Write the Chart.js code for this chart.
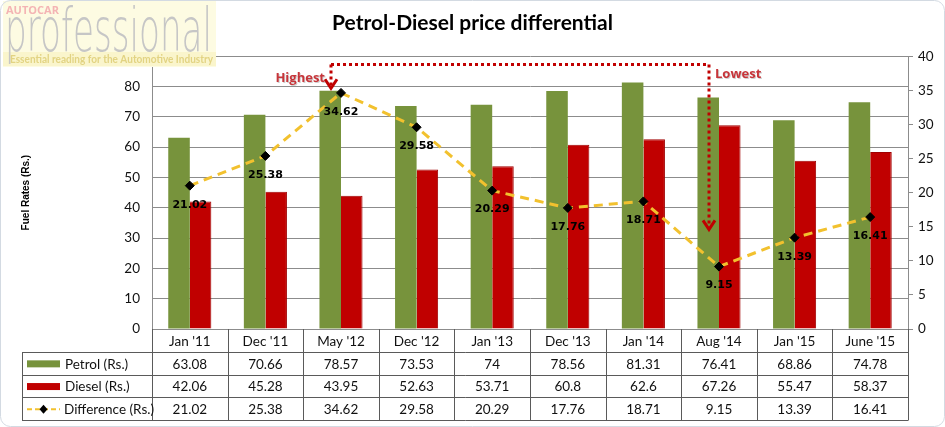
<!DOCTYPE html>
<html>
<head>
<meta charset="utf-8">
<script src="https://cdn.jsdelivr.net/npm/chart.js@4.4.1/dist/chart.umd.min.js"></script>
<style>
  html, body { margin: 0; padding: 0; background: #fff; }
  #wrap { width: 945px; height: 427px; }
</style>
</head>
<body>
<div id="wrap"><canvas id="chart" width="945" height="427"></canvas></div>
<script>
const periods = ["Jan '11", "Dec '11", "May '12", "Dec '12", "Jan '13", "Dec '13", "Jan '14", "Aug '14", "Jan '15", "June '15"];
const petrol = [63.08, 70.66, 78.57, 73.53, 74, 78.56, 81.31, 76.41, 68.86, 74.78];
const diesel = [42.06, 45.28, 43.95, 52.63, 53.71, 60.8, 62.6, 67.26, 55.47, 58.37];
const difference = [21.02, 25.38, 34.62, 29.58, 20.29, 17.76, 18.71, 9.15, 13.39, 16.41];
const rowNames = ["Petrol (Rs.)", "Diesel (Rs.)", "Difference (Rs.)"];

const green = "#77933c";
const red = "#c00000";
const gold = "#f2c12e";
const gridGrey = "#8c8c8c";
const tableGrey = "#5a5a5a";

// annotation ends, on the right axis
const arrowTop = 38.8;
const highestEnd = 35.3;
const lowestEnd = 14.6;

function drawArrow(ctx, x, y1, y2) {
  ctx.beginPath();
  ctx.moveTo(x, y1);
  ctx.lineTo(x, y2 - 3);
  ctx.stroke();
  ctx.setLineDash([]);
  ctx.beginPath();
  ctx.moveTo(x - 6, y2 - 9);
  ctx.lineTo(x, y2);
  ctx.lineTo(x + 6, y2 - 9);
  ctx.stroke();
  ctx.setLineDash([3, 3]);
}

const extras = {
  id: "extras",
  afterDatasetsDraw(chart) {
    const ctx = chart.ctx;
    const yr = chart.scales.y1;

    // value labels for the difference line
    const meta = chart.getDatasetMeta(0);
    ctx.save();
    ctx.font = "bold 11px 'DejaVu Sans'";
    ctx.fillStyle = "#000";
    ctx.textAlign = "center";
    ctx.textBaseline = "middle";
    meta.data.forEach((pt, i) => {
      ctx.fillText(difference[i].toFixed(2), pt.x, pt.y + 19);
    });
    ctx.restore();

    // highest / lowest markers
    const hi = difference.indexOf(Math.max(...difference));
    const lo = difference.indexOf(Math.min(...difference));
    const hx = meta.data[hi].x - 10;
    const lx = meta.data[lo].x - 10;
    const topY = yr.getPixelForValue(arrowTop);
    ctx.save();
    ctx.strokeStyle = red;
    ctx.lineWidth = 3;
    ctx.setLineDash([3, 3]);
    ctx.beginPath();
    ctx.moveTo(hx, topY);
    ctx.lineTo(lx, topY);
    ctx.stroke();
    drawArrow(ctx, hx, topY, yr.getPixelForValue(highestEnd));
    drawArrow(ctx, lx, topY, yr.getPixelForValue(lowestEnd));
    ctx.setLineDash([]);
    ctx.font = "bold 13px 'Open Sans'";
    ctx.textBaseline = "middle";
    ctx.fillStyle = "rgba(120,120,120,0.35)";
    ctx.textAlign = "right";
    ctx.fillText("Highest", hx - 5, 79);
    ctx.textAlign = "left";
    ctx.fillText("Lowest", lx + 7, 75);
    ctx.fillStyle = "#c7353a";
    ctx.textAlign = "right";
    ctx.fillText("Highest", hx - 6, 78);
    ctx.textAlign = "left";
    ctx.fillText("Lowest", lx + 6, 74);
    ctx.restore();
  },
  afterDraw(chart) {
    const ctx = chart.ctx;
    const area = chart.chartArea;
    const step = (area.right - area.left) / periods.length;
    const tableLeft = 22;
    const tableTop = area.bottom + 23;
    const rowH = 22.7;

    // data table grid
    ctx.save();
    ctx.strokeStyle = tableGrey;
    ctx.lineWidth = 1;
    ctx.beginPath();
    for (let i = 0; i <= periods.length; i++) {
      const x = Math.round(area.left + i * step) + 0.5;
      ctx.moveTo(x, area.bottom);
      ctx.lineTo(x, tableTop + 3 * rowH);
    }
    for (let r = 0; r <= 3; r++) {
      const y = Math.round(tableTop + r * rowH) + 0.5;
      ctx.moveTo(tableLeft, y);
      ctx.lineTo(area.right + 0.5, y);
    }
    ctx.moveTo(tableLeft + 0.5, tableTop);
    ctx.lineTo(tableLeft + 0.5, tableTop + 3 * rowH);
    ctx.stroke();

    // table values
    ctx.font = "13.5px Lato";
    ctx.fillStyle = "#111";
    ctx.textAlign = "center";
    ctx.textBaseline = "middle";
    [petrol, diesel, difference].forEach((row, r) => {
      const y = tableTop + r * rowH + rowH / 2 + 1;
      row.forEach((v, i) => {
        ctx.fillText(String(v), area.left + (i + 0.5) * step, y);
      });
    });

    // legend keys
    ctx.textAlign = "left";
    rowNames.forEach((name, r) => {
      const y = tableTop + r * rowH + rowH / 2;
      if (r < 2) {
        ctx.fillStyle = r === 0 ? green : red;
        ctx.fillRect(27, y - 3, 33, 7);
      } else {
        ctx.strokeStyle = gold;
        ctx.lineWidth = 2;
        ctx.setLineDash([5, 3]);
        ctx.beginPath();
        ctx.moveTo(27, y + 0.5);
        ctx.lineTo(60, y + 0.5);
        ctx.stroke();
        ctx.setLineDash([]);
        ctx.fillStyle = "#000";
        ctx.beginPath();
        ctx.moveTo(43.5, y - 4);
        ctx.lineTo(47.5, y + 0.5);
        ctx.lineTo(43.5, y + 5);
        ctx.lineTo(39.5, y + 0.5);
        ctx.closePath();
        ctx.fill();
      }
      ctx.fillStyle = "#111";
      ctx.fillText(name, r < 2 ? 65 : 64, y + 1);
    });

    // logo
    ctx.fillStyle = "#fdfbe2";
    ctx.fillRect(3, 1, 213, 66);
    ctx.fillStyle = "#faf5cc";
    ctx.fillRect(3, 52, 213, 14);
    ctx.fillStyle = "#f4b4b4";
    ctx.font = "bold 11px 'Open Sans'";
    ctx.textBaseline = "alphabetic";
    ctx.fillText("AUTOCAR", 6, 14);
    ctx.fillStyle = "#c6c6c6";
    ctx.font = "200 60px 'DejaVu Sans', Lato";
    let w = ctx.measureText("professional").width;
    ctx.save();
    ctx.translate(5, 51);
    ctx.scale(207 / w, 1);
    ctx.fillText("professional", 0, 0);
    ctx.restore();
    ctx.fillStyle = "#e2d382";
    ctx.font = "bold 11px Lato";
    w = ctx.measureText("Essential reading for the Automotive Industry").width;
    ctx.save();
    ctx.translate(10, 63);
    ctx.scale(203 / w, 1);
    ctx.fillText("Essential reading for the Automotive Industry", 0, 0);
    ctx.restore();

    // outer frame
    ctx.strokeStyle = "#d3dae2";
    ctx.lineWidth = 1;
    ctx.beginPath();
    ctx.roundRect(0.5, 0.5, 944, 426, 10);
    ctx.stroke();
    ctx.restore();
  }
};

new Chart(document.getElementById("chart"), {
  data: {
    labels: periods,
    datasets: [
      {
        type: "line",
        label: rowNames[2],
        data: difference,
        yAxisID: "y1",
        order: 0,
        borderColor: gold,
        borderWidth: 3,
        borderDash: [9, 6],
        pointStyle: "rectRot",
        pointRadius: 4.5,
        pointBackgroundColor: "#000",
        pointBorderColor: "#000",
        pointBorderWidth: 1,
        tension: 0
      },
      {
        type: "bar",
        label: rowNames[0],
        data: petrol,
        yAxisID: "y",
        order: 1,
        backgroundColor: green,
        categoryPercentage: 0.57,
        barPercentage: 1
      },
      {
        type: "bar",
        label: rowNames[1],
        data: diesel,
        yAxisID: "y",
        order: 1,
        backgroundColor: red,
        borderColor: "#a00000",
        borderWidth: { left: 0, right: 1, top: 1, bottom: 0 },
        categoryPercentage: 0.57,
        barPercentage: 1
      }
    ]
  },
  options: {
    responsive: false,
    animation: false,
    layout: { padding: { left: 0, right: 0, top: 0, bottom: 0 } },
    plugins: {
      legend: { display: false },
      tooltip: { enabled: false },
      title: {
        display: true,
        text: "Petrol-Diesel price differential",
        color: "#000",
        font: { family: "Lato", size: 21, weight: "bold" },
        padding: { top: 11, bottom: 20 }
      }
    },
    scales: {
      x: {
        grid: { display: false, drawTicks: false },
        border: { color: gridGrey },
        ticks: { color: "#111", font: { family: "Lato", size: 13.5 }, padding: 5, maxRotation: 0 },
        afterFit(s) { s.height = 98; }
      },
      y: {
        position: "left",
        min: 0,
        max: 90,
        ticks: {
          stepSize: 10,
          padding: 12,
          color: "#111",
          font: { family: "Lato", size: 13.5 },
          callback: v => (v > 80 ? "" : v)
        },
        grid: { color: gridGrey, drawTicks: false },
        border: { color: gridGrey },
        title: {
          display: true,
          text: "Fuel Rates (Rs.)",
          color: "#000",
          font: { family: "Liberation Sans", size: 10, weight: "bold" },
          padding: { top: 20, bottom: 0 }
        },
        afterFit(s) { s.width = 152; }
      },
      y1: {
        position: "right",
        min: 0,
        max: 40,
        ticks: { stepSize: 5, padding: 5, color: "#111", font: { family: "Lato", size: 13.5 } },
        grid: { drawOnChartArea: false, color: gridGrey, tickLength: 5 },
        border: { color: gridGrey },
        afterFit(s) { s.width = 37; }
      }
    }
  },
  plugins: [extras]
});
</script>
</body>
</html>
